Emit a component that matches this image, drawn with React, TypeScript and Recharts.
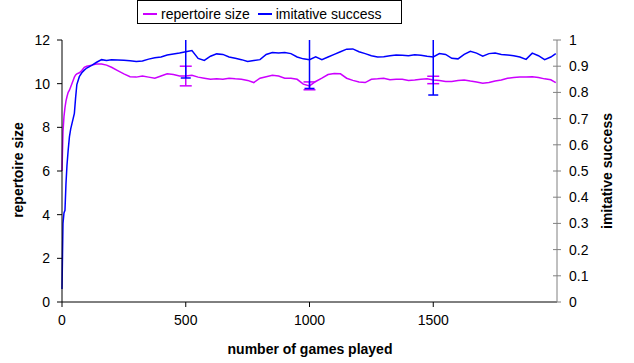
import { LineChart, Line, XAxis, YAxis, ErrorBar, Legend } from 'recharts';

const GAMES = [
  0, 4, 8, 12, 16, 20, 25, 30, 35, 40, 45, 50, 55, 60, 70, 80, 90, 100, 120, 140, 160, 180, 200,
  225, 250, 275, 300, 325, 350, 375, 400, 425, 450, 475, 500, 525, 550, 575, 600, 625, 650, 675,
  700, 725, 750, 775, 800, 825, 850, 875, 900, 925, 950, 975, 1000, 1025, 1050, 1075, 1100, 1125,
  1150, 1175, 1200, 1225, 1250, 1275, 1300, 1325, 1350, 1375, 1400, 1425, 1450, 1475, 1500, 1525,
  1550, 1575, 1600, 1625, 1650, 1675, 1700, 1725, 1750, 1775, 1800, 1825, 1850, 1875, 1900, 1925,
  1950, 1975, 1995,
];

const REPERTOIRE_SIZE = [
  6.0, 7.8, 8.5, 8.9, 9.2, 9.4, 9.6, 9.7, 9.85, 10.0, 10.15, 10.3, 10.4, 10.45, 10.5, 10.6, 10.75,
  10.8, 10.85, 10.9, 10.9, 10.85, 10.75, 10.6, 10.45, 10.32, 10.3, 10.35, 10.3, 10.25, 10.35,
  10.45, 10.42, 10.35, 10.35, 10.38, 10.3, 10.25, 10.2, 10.22, 10.2, 10.25, 10.22, 10.2, 10.15,
  10.05, 10.25, 10.32, 10.38, 10.35, 10.25, 10.25, 10.2, 9.98, 9.9, 10.1, 10.25, 10.42, 10.47,
  10.45, 10.25, 10.15, 10.08, 10.05, 10.2, 10.22, 10.25, 10.18, 10.2, 10.2, 10.15, 10.17, 10.2,
  10.22, 10.17, 10.15, 10.1, 10.1, 10.15, 10.17, 10.12, 10.08, 10.02, 10.05, 10.12, 10.17, 10.25,
  10.28, 10.3, 10.3, 10.32, 10.28, 10.22, 10.18, 10.05,
];

const IMITATIVE_SUCCESS = [
  0.05, 0.3, 0.34, 0.35, 0.45, 0.52, 0.58, 0.63, 0.66, 0.68, 0.7, 0.72, 0.78, 0.83, 0.86, 0.875,
  0.885, 0.893, 0.903, 0.915, 0.925, 0.922, 0.925, 0.924, 0.923, 0.921, 0.918, 0.92, 0.927, 0.932,
  0.935, 0.943, 0.947, 0.95, 0.955, 0.96, 0.93, 0.922, 0.938, 0.947, 0.945, 0.935, 0.93, 0.925,
  0.918, 0.922, 0.925, 0.945, 0.952, 0.95, 0.952, 0.948, 0.935, 0.928, 0.925, 0.936, 0.925, 0.935,
  0.945, 0.955, 0.965, 0.966, 0.955, 0.948, 0.94, 0.935, 0.936, 0.94, 0.943, 0.942, 0.94, 0.944,
  0.942, 0.938, 0.935, 0.948, 0.945, 0.93, 0.928, 0.945, 0.957, 0.95, 0.938, 0.948, 0.95, 0.945,
  0.943, 0.94, 0.935, 0.926, 0.95, 0.94, 0.925, 0.935, 0.948,
];

const ERROR_GAMES = [500, 1000, 1500];
const REPERTOIRE_ERROR = [0.45, 0.18, 0.17];
const SUCCESS_ERROR = [0.1, 0.11, 0.145];

const X_TICKS = [0, 500, 1000, 1500];
const LEFT_TICKS = [0, 2, 4, 6, 8, 10, 12];
const RIGHT_TICKS = [0, 0.1, 0.2, 0.3, 0.4, 0.5, 0.6, 0.7, 0.8, 0.9, 1];

const PURPLE = '#cc00ff';
const BLUE = '#0000ff';
const FONT = '"Liberation Sans", Arial, sans-serif';

const data = GAMES.map((g, i) => {
  const e = ERROR_GAMES.indexOf(g);
  return {
    games: g,
    repertoire: REPERTOIRE_SIZE[i],
    success: IMITATIVE_SUCCESS[i],
    repErr: e >= 0 ? REPERTOIRE_ERROR[e] : undefined,
    sucErr: e >= 0 ? SUCCESS_ERROR[e] : undefined,
  };
});

function RightTick({ x, y, payload }: any) {
  return (
    <g>
      <line x1={x - 16} x2={x - 8} y1={y} y2={y} stroke="#808080" />
      <text x={x} y={y} dy="0.35em" fontSize={14} fill="#000" fontFamily={FONT}>
        {payload.value}
      </text>
    </g>
  );
}

function LegendBox() {
  const item = (color: string, text: string, gap: number) => (
    <span style={{ display: 'inline-flex', alignItems: 'center', marginRight: gap }}>
      <span style={{ display: 'inline-block', width: 14, height: 2, background: color, marginRight: 4 }} />
      {text}
    </span>
  );
  return (
    <div
      style={{
        border: '1px solid #000',
        background: '#fff',
        fontFamily: FONT,
        fontSize: 14,
        lineHeight: '18px',
        padding: '0 0 0 5px',
        width: 258,
        whiteSpace: 'nowrap',
        color: '#000',
      }}
    >
      {item(PURPLE, 'repertoire size', 8)}
      {item(BLUE, 'imitative success', 0)}
    </div>
  );
}

const labelStyle: any = {
  position: 'absolute',
  fontFamily: FONT,
  fontSize: 14,
  fontWeight: 'bold',
  whiteSpace: 'nowrap',
  color: '#000',
};

export default function App() {
  return (
    <div style={{ position: 'absolute', left: 0, top: 0, width: 634, height: 363, background: '#fff' }}>
      <LineChart width={634} height={363} data={data} margin={{ top: 40, right: 0, bottom: 0, left: 0 }}>
        <defs>
          <clipPath id="plot-clip">
            <rect x={55} y={40} width={510} height={262} />
          </clipPath>
        </defs>
        <XAxis
          dataKey="games"
          type="number"
          domain={[0, 2000]}
          ticks={X_TICKS}
          height={61}
          stroke="#000"
          tickSize={5}
          tickMargin={8}
          tick={{ fill: '#000', fontSize: 14, fontFamily: FONT }}
        />
        <YAxis
          yAxisId="left"
          domain={[0, 12]}
          ticks={LEFT_TICKS}
          width={62}
          stroke="#000"
          tickSize={5}
          tickMargin={7}
          tick={{ fill: '#000', fontSize: 14, fontFamily: FONT }}
        />
        <YAxis
          yAxisId="right"
          orientation="right"
          domain={[0, 1]}
          allowDataOverflow
          ticks={RIGHT_TICKS}
          width={77}
          stroke="#808080"
          tickLine={false}
          tickSize={4}
          tickMargin={8}
          tick={<RightTick />}
        />
        <Legend
          verticalAlign="middle"
          content={<LegendBox />}
          wrapperStyle={{ top: 0, left: 137, width: 'auto' }}
        />
        <Line
          yAxisId="left"
          dataKey="repertoire"
          stroke={PURPLE}
          strokeWidth={1.5}
          dot={false}
          isAnimationActive={false}
        >
          <ErrorBar dataKey="repErr" width={6} stroke={PURPLE} strokeWidth={1.5} direction="y" />
        </Line>
        <Line
          yAxisId="right"
          dataKey="success"
          stroke={BLUE}
          strokeWidth={1.5}
          dot={false}
          isAnimationActive={false}
        >
          <ErrorBar
            dataKey="sucErr"
            width={5}
            stroke={BLUE}
            strokeWidth={1.5}
            direction="y"
            clipPath="url(#plot-clip)"
          />
        </Line>
      </LineChart>
      <div style={{ ...labelStyle, left: 18, top: 170, transform: 'translate(-50%, -50%) rotate(-90deg)' }}>
        repertoire size
      </div>
      <div style={{ ...labelStyle, left: 607, top: 171, transform: 'translate(-50%, -50%) rotate(-90deg)' }}>
        imitative success
      </div>
      <div style={{ ...labelStyle, left: 310, top: 349, transform: 'translate(-50%, -50%)' }}>
        number of games played
      </div>
    </div>
  );
}
